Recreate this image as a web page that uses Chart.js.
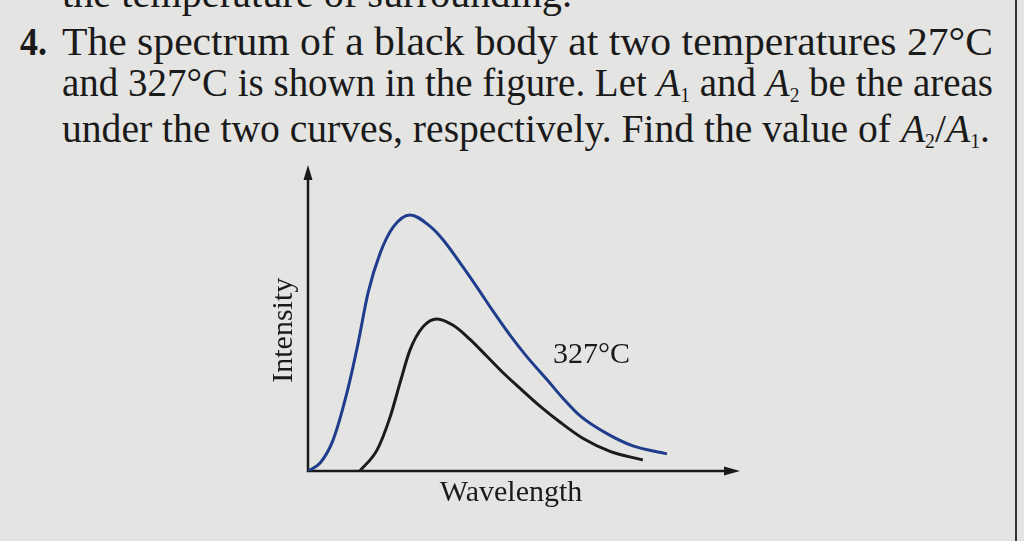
<!DOCTYPE html>
<html lang="en">
<head>
  <meta charset="UTF-8" />
  <title>Black body spectrum</title>
  <script src="https://cdn.jsdelivr.net/npm/chart.js"></script>
  <style>
    html, body {
      margin: 0;
      padding: 0;
      width: 1024px;
      height: 541px;
      overflow: hidden;
      background: #e4e4e2;
      color: #1a1a1a;
      font-family: "Liberation Serif", "Times New Roman", serif;
    }
    #chart {
      position: absolute;
      left: 0;
      top: 0;
    }
    .ln {
      position: absolute;
      font-size: 40px;
      line-height: 40px;
      white-space: nowrap;
      transform-origin: 0 0;
    }
    .num { font-weight: bold; }
    .ln i { font-style: italic; }
    .ln sub {
      font-size: 0.5em;
      vertical-align: -0.3em;
      line-height: 0;
    }
    .edge {
      position: absolute;
      left: 1015px;
      top: 0;
      width: 2px;
      height: 541px;
      background: #333;
    }
  </style>
</head>
<body>
  <div class="ln" data-w="510" style="left:62px;top:-26px">the temperature of surrounding.</div>
  <div class="ln num" data-w="27" style="left:20px;top:22px">4.</div>
  <div class="ln" data-w="931" style="left:62px;top:22px">The spectrum of a black body at two temperatures 27°C</div>
  <div class="ln" data-w="931" style="left:62px;top:63px">and 327°C is shown in the figure. Let <i>A</i><sub>1</sub> and <i>A</i><sub>2</sub> be the areas</div>
  <div class="ln" data-w="928" style="left:62px;top:109px">under the two curves, respectively. Find the value of <i>A</i><sub>2</sub>/<i>A</i><sub>1</sub>.</div>
  <div class="edge"></div>

  <canvas id="chart" width="1024" height="541"></canvas>

  <script>
    // upper curve (327°C)
    const wavelengthHot = [0, 2.8, 5.8, 9.0, 11.6, 13.9, 16.7, 19.7, 23.6, 28.2, 31.3, 35.2, 39.1, 42.8, 46.8, 50.7, 55.3, 59.0, 63.0, 69.2, 75.2, 83.1];
    const intensityHot  = [0, 2.6, 10.1, 25.5, 41.8, 58.2, 71.2, 79.7, 83.7, 80.0, 75.5, 68.0, 60.1, 52.3, 44.3, 37.3, 29.9, 23.8, 18.0, 12.2, 8.2, 5.6];

    // lower curve (27°C)
    const wavelengthCold = [12.0, 16.0, 19.0, 21.3, 23.6, 26.6, 29.9, 33.6, 37.5, 41.4, 45.1, 49.1, 53.7, 58.3, 63.7, 69.9, 77.5];
    const intensityCold  = [0, 6.9, 17.6, 28.8, 39.5, 47.1, 49.7, 47.6, 43.0, 37.5, 32.2, 27.0, 21.2, 16.0, 10.6, 6.4, 3.6];

    const seriesNames = ["327°C", "27°C"];
    const xTitle = "Wavelength";
    const yTitle = "Intensity";
    const curveLabel = { text: "327°C", x: 56.7, y: 35.3 };

    // squeeze each text line to the width it has on the page
    document.querySelectorAll(".ln").forEach(el => {
      const w = el.getBoundingClientRect().width;
      el.style.transform = `scaleX(${el.dataset.w / w})`;
    });

    const toPoints = (xs, ys) => xs.map((x, i) => ({ x: x, y: ys[i] }));

    const ink = "#1a1a1a";

    const axesPlugin = {
      id: "axesPlugin",
      beforeDatasetsDraw(chart) {
        const { ctx, chartArea: a } = chart;
        ctx.save();
        ctx.strokeStyle = ink;
        ctx.fillStyle = ink;
        ctx.lineWidth = 2.5;
        ctx.beginPath();
        ctx.moveTo(a.left, a.top + 8);
        ctx.lineTo(a.left, a.bottom);
        ctx.lineTo(a.right - 8, a.bottom);
        ctx.stroke();
        // arrow heads
        ctx.beginPath();
        ctx.moveTo(a.left, a.top);
        ctx.lineTo(a.left - 4.5, a.top + 15);
        ctx.lineTo(a.left + 4.5, a.top + 15);
        ctx.closePath();
        ctx.fill();
        ctx.beginPath();
        ctx.moveTo(a.right, a.bottom);
        ctx.lineTo(a.right - 16, a.bottom - 4.5);
        ctx.lineTo(a.right - 16, a.bottom + 4.5);
        ctx.closePath();
        ctx.fill();
        ctx.restore();
      },
      afterDraw(chart) {
        const { ctx, chartArea: a, scales } = chart;
        ctx.save();
        ctx.fillStyle = ink;
        ctx.font = '30px "Liberation Serif", serif';
        ctx.textAlign = "center";
        ctx.textBaseline = "alphabetic";
        ctx.fillText(xTitle, scales.x.getPixelForValue(47), a.bottom + 30);

        ctx.translate(a.left - 16, scales.y.getPixelForValue(46));
        ctx.rotate(-Math.PI / 2);
        ctx.fillText(yTitle, 0, 0);
        ctx.restore();

        ctx.save();
        ctx.fillStyle = ink;
        ctx.font = '30px "Liberation Serif", serif';
        ctx.textAlign = "left";
        ctx.fillText(curveLabel.text, scales.x.getPixelForValue(curveLabel.x), scales.y.getPixelForValue(curveLabel.y));
        ctx.restore();
      }
    };

    new Chart(document.getElementById("chart").getContext("2d"), {
      type: "line",
      data: {
        datasets: [{
          label: seriesNames[0],
          data: toPoints(wavelengthHot, intensityHot),
          borderColor: "#1f3d8c",
          borderWidth: 3,
          pointRadius: 0,
          cubicInterpolationMode: "monotone",
          fill: false
        }, {
          label: seriesNames[1],
          data: toPoints(wavelengthCold, intensityCold),
          borderColor: "#1b1b1b",
          borderWidth: 3,
          pointRadius: 0,
          cubicInterpolationMode: "monotone",
          fill: false
        }]
      },
      options: {
        responsive: false,
        animation: false,
        layout: { padding: { left: 308, right: 284, top: 165, bottom: 70 } },
        plugins: { legend: { display: false }, tooltip: { enabled: false } },
        scales: {
          x: { type: "linear", min: 0, max: 100, display: false },
          y: { type: "linear", min: 0, max: 100, display: false }
        }
      },
      plugins: [axesPlugin]
    });
  </script>
</body>
</html>
